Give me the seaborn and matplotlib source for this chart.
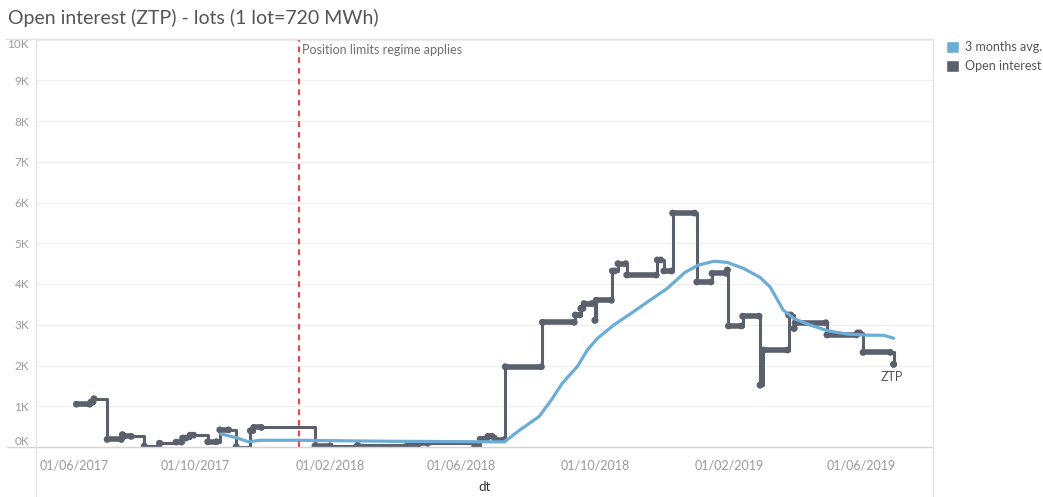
import pandas as pd
import matplotlib
matplotlib.use("Agg")
import matplotlib.pyplot as plt
import matplotlib.dates as mdates
import matplotlib.transforms as mtransforms
from matplotlib.lines import Line2D
from matplotlib.patches import Patch
import seaborn as sns

# open interest runs: first day, last day, lots
oi_start = ["2017-06-14", "2017-06-27", "2017-06-30", "2017-07-12", "2017-07-26", "2017-07-27",
            "2017-08-15", "2017-08-29", "2017-09-13", "2017-09-19", "2017-09-26", "2017-10-12",
            "2017-10-23", "2017-11-07", "2017-11-20", "2017-11-23", "2018-01-18", "2018-02-26",
            "2018-04-13", "2018-04-23", "2018-06-13", "2018-06-18", "2018-06-25", "2018-07-02",
            "2018-07-11", "2018-08-14", "2018-09-13", "2018-09-18", "2018-09-21", "2018-10-01",
            "2018-10-02", "2018-10-17", "2018-10-22", "2018-10-30", "2018-11-27", "2018-12-03",
            "2018-12-11", "2019-01-02", "2019-01-16", "2019-01-30", "2019-01-31", "2019-02-13",
            "2019-03-01", "2019-03-04", "2019-03-27", "2019-04-01", "2019-04-02", "2019-05-01",
            "2019-05-29", "2019-06-03", "2019-07-01"]
oi_end = ["2017-06-26", "2017-06-29", "2017-06-30", "2017-07-25", "2017-07-26", "2017-08-03",
          "2017-08-15", "2017-08-29", "2017-09-18", "2017-09-22", "2017-09-29", "2017-10-20",
          "2017-10-31", "2017-11-07", "2017-11-22", "2017-11-30", "2018-02-01", "2018-02-26",
          "2018-04-20", "2018-05-01", "2018-06-15", "2018-06-22", "2018-06-29", "2018-07-10",
          "2018-08-13", "2018-09-12", "2018-09-17", "2018-09-20", "2018-09-28", "2018-10-01",
          "2018-10-16", "2018-10-19", "2018-10-29", "2018-11-26", "2018-11-30", "2018-12-10",
          "2018-12-31", "2019-01-15", "2019-01-29", "2019-01-30", "2019-02-12", "2019-02-28",
          "2019-03-01", "2019-03-26", "2019-03-29", "2019-04-01", "2019-04-30", "2019-05-28",
          "2019-05-31", "2019-06-28", "2019-07-01"]
oi_value = [1050, 1100, 1180, 185, 300, 260,
            20, 90, 120, 220, 290, 130,
            420, 5, 400, 480, 30, 40,
            60, 90, 15, 190, 260, 180,
            1970, 3060, 3240, 3400, 3520, 3110,
            3600, 4320, 4500, 4220, 4590, 4320,
            5740, 4050, 4260, 4340, 2970, 3210,
            1520, 2380, 3240, 2910, 3050, 2750,
            2800, 2320, 2030]

# 3 months average
avg_dates = ["2017-10-24", "2017-11-07", "2017-11-18", "2017-11-29", "2018-01-04", "2018-03-28",
             "2018-06-13", "2018-07-10", "2018-07-24", "2018-08-11", "2018-08-22", "2018-09-01",
             "2018-09-15", "2018-09-24", "2018-10-03", "2018-10-18", "2018-11-03", "2018-11-18",
             "2018-12-06", "2018-12-22", "2019-01-03", "2019-01-18", "2019-01-30", "2019-02-14",
             "2019-03-01", "2019-03-10", "2019-03-16", "2019-03-22", "2019-04-01", "2019-04-16",
             "2019-05-02", "2019-05-20", "2019-06-07", "2019-06-22", "2019-07-01"]
avg_values = [320, 230, 130, 165, 165, 140,
              130, 125, 410, 750, 1150, 1560,
              1980, 2380, 2660, 2990, 3280, 3560,
              3890, 4280, 4460, 4560, 4530, 4380,
              4160, 3930, 3650, 3360, 3150, 2990,
              2850, 2770, 2745, 2740, 2670]

y_ticks = [0, 1000, 2000, 3000, 4000, 5000, 6000, 7000, 8000, 9000, 10000]
y_tick_labels = ["0K", "1K", "2K", "3K", "4K", "5K", "6K", "7K", "8K", "9K", "10K"]

limits_date = "2018-01-03"
limits_label = "Position limits regime applies"
title = "Open interest (ZTP) - lots (1 lot=720 MWh)"
series_names = ["3 months avg.", "Open interest"]

oi_color = "#5a606c"
avg_color = "#6cadd8"
grey_txt = "#9a9a9a"

sns.set_style("white")
plt.rcParams["font.family"] = ["Lato", "DejaVu Sans"]

fig = plt.figure(figsize=(10.43, 4.97), dpi=100)
W, H = 1043, 497
ax = fig.add_axes([36 / W, 1 - 447 / H, (933 - 36) / W, (447 - 39.5) / H])

# step line through every run
step_x, step_y = [], []
for s, e, v in zip(oi_start, oi_end, oi_value):
    step_x += [s, e]
    step_y += [v, v]
steps = pd.DataFrame({"dt": pd.to_datetime(step_x), "lots": step_y})
sns.lineplot(data=steps, x="dt", y="lots", estimator=None, sort=False,
             drawstyle="steps-post", color=oi_color, lw=2.2, ax=ax)

# dense daily dots look like thick runs
ax.hlines(oi_value, pd.to_datetime(oi_start), pd.to_datetime(oi_end),
          colors=oi_color, lw=4.0, capstyle="round", zorder=3)
dots = pd.DataFrame({"dt": pd.to_datetime(oi_start + oi_end), "lots": oi_value + oi_value})
sns.scatterplot(data=dots, x="dt", y="lots", color=oi_color, s=24, edgecolor="none",
                zorder=4, ax=ax)

avg = pd.DataFrame({"dt": pd.to_datetime(avg_dates), "lots": avg_values})
sns.lineplot(data=avg, x="dt", y="lots", color=avg_color, lw=2.3, ax=ax, zorder=5)

ax.axvline(pd.Timestamp(limits_date), color="#e5484d", lw=1.6, ls=(0, (2.6, 2.2)), zorder=6)
ax.annotate(limits_label, xy=(pd.Timestamp(limits_date), 1), xycoords=("data", "axes fraction"),
            xytext=(2.5, -3), textcoords="offset points", ha="left", va="top",
            fontsize=9, color="#6f6f6f")

last = pd.Timestamp(oi_start[-1])
ax.annotate("ZTP", xy=(last, oi_value[-1]), xytext=(-1, -5), textcoords="offset points",
            ha="center", va="top", fontsize=9, color="#555555")

ax.set_xlim(pd.Timestamp("2017-05-08"), pd.Timestamp("2019-08-06"))
ax.set_ylim(0, 10000)

ax.set_yticks(y_ticks)
ax.set_yticklabels(y_tick_labels)
ax.tick_params(axis="y", length=0, labelsize=8.5, labelcolor=grey_txt, pad=5)
ax.grid(axis="y", color="#f0f0f0", lw=0.9)
ax.set_axisbelow(True)

ax.xaxis.set_major_locator(mdates.MonthLocator(bymonth=[2, 6, 10]))
ax.xaxis.set_major_formatter(mdates.DateFormatter("%d/%m/%Y"))
ax.xaxis.set_minor_locator(mdates.MonthLocator())
ax.tick_params(axis="x", which="both", length=5, width=0.8, color="#e6e6e6",
               labelsize=9, labelcolor=grey_txt, pad=4, direction="out")
ax.set_xlabel("dt", fontsize=9.5, color="#333333", labelpad=7)
ax.set_ylabel("")

for side in ["top", "right", "left", "bottom"]:
    ax.spines[side].set_visible(False)

# pane borders like the dashboard
fig.add_artist(Line2D([5 / W, 933 / W], [1 - 39 / H] * 2, color="#e4e4e4", lw=1))
fig.add_artist(Line2D([7 / W, 933 / W], [1 - 447 / H] * 2, color="#d4d4d4", lw=1))
fig.add_artist(Line2D([36 / W] * 2, [1 - 39 / H, 0], color="#e4e4e4", lw=1))
fig.add_artist(Line2D([933 / W] * 2, [1 - 39 / H, 0], color="#e4e4e4", lw=1))

fig.text(8 / W, 1 - 18 / H, title, ha="left", va="center", fontsize=14, color="#555555")

handles = [Patch(facecolor=avg_color, label=series_names[0]),
           Patch(facecolor=oi_color, label=series_names[1])]
fig.legend(handles=handles, loc="upper left", bbox_to_anchor=(946 / W, 1 - 41 / H),
           frameon=False, fontsize=9, handlelength=1.05, handleheight=1.05,
           handletextpad=0.5, labelspacing=0.55, borderpad=0, borderaxespad=0,
           labelcolor="#555555")

# keep the end labels inside the pane, as in the dashboard
fig.canvas.draw()
ylabels = ax.get_yticklabels()
ylabels[0].set_verticalalignment("bottom")
ylabels[-1].set_verticalalignment("top")
first_tick = ax.xaxis.get_major_ticks()[0].label1
first_tick.set_transform(first_tick.get_transform()
                         + mtransforms.ScaledTranslation(12 / 100, 0, fig.dpi_scale_trans))

fig.savefig("out.png", dpi=100)
